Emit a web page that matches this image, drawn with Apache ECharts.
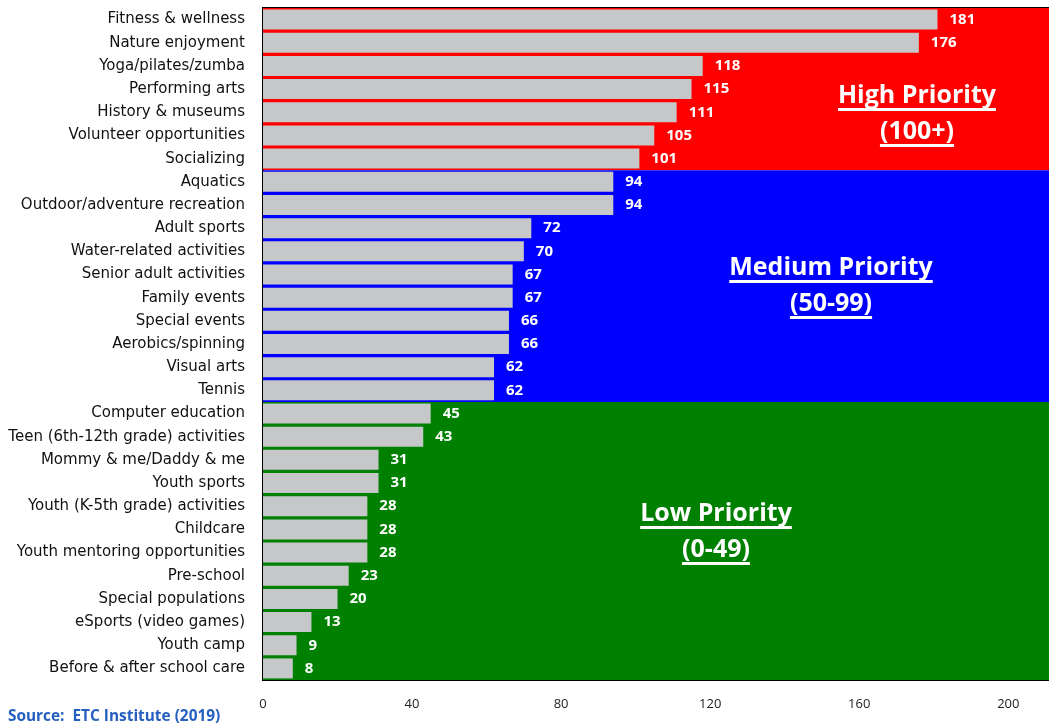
<!DOCTYPE html>
<html>
<head>
<meta charset="utf-8">
<script src="https://cdn.jsdelivr.net/npm/echarts@6/dist/echarts.min.js"></script>
<style>
  html, body { margin: 0; padding: 0; background: #fff; }
  #chart { width: 1049px; height: 724px; }
  .source { position: absolute; left: 8px; top: 705px; font: bold 15.4px 'Open Sans', sans-serif; color: #2560c0; white-space: pre; }
</style>
</head>
<body>
<div id="chart"></div>
<div class="source">Source:  ETC Institute (2019)</div>
<script>
// 项目类别（从上到下）
const categories = [
  'Fitness & wellness', 'Nature enjoyment', 'Yoga/pilates/zumba', 'Performing arts',
  'History & museums', 'Volunteer opportunities', 'Socializing', 'Aquatics',
  'Outdoor/adventure recreation', 'Adult sports', 'Water-related activities',
  'Senior adult activities', 'Family events', 'Special events', 'Aerobics/spinning',
  'Visual arts', 'Tennis', 'Computer education', 'Teen (6th-12th grade) activities',
  'Mommy & me/Daddy & me', 'Youth sports', 'Youth (K-5th grade) activities', 'Childcare',
  'Youth mentoring opportunities', 'Pre-school', 'Special populations',
  'eSports (video games)', 'Youth camp', 'Before & after school care'
];
const values = [181, 176, 118, 115, 111, 105, 101, 94, 94, 72, 70, 67, 67, 66, 66, 62, 62,
  45, 43, 31, 31, 28, 28, 28, 23, 20, 13, 9, 8];
const xTicks = [0, 40, 80, 120, 160, 200];
// 优先级区域：起止行号
const zoneNames = ['High Priority', 'Medium Priority', 'Low Priority'];
const zoneRanges = ['(100+)', '(50-99)', '(0-49)'];
const zoneRows = [[0, 7], [7, 17], [17, 29]];
const zoneColors = ['#ff0000', '#0000ff', '#008000'];

let myChart = echarts.init(document.getElementById('chart'));

// 区域标题文字 + 下划线
const zoneFont = 'bold 25px "Open Sans", sans-serif';
const ctx = document.createElement('canvas').getContext('2d');
ctx.font = zoneFont;
const zoneCenters = [[917, 96], [831, 268], [716, 514]];
const graphics = [];
zoneCenters.forEach(function (c, i) {
  [zoneNames[i], zoneRanges[i]].forEach(function (t, k) {
    const y = c[1] + k * 36;
    const w = ctx.measureText(t).width;
    graphics.push({
      type: 'text', x: c[0], y: y, z: 100,
      style: { text: t, fill: '#fff', fontSize: 25, fontWeight: 'bold', fontFamily: 'Open Sans', align: 'center', verticalAlign: 'middle' }
    });
    graphics.push({
      type: 'rect', z: 100,
      shape: { x: c[0] - w / 2, y: y + 12, width: w, height: 3 },
      style: { fill: '#fff' }
    });
  });
});

let option = {
  animation: false,
  grid: {
    left: 263,
    top: 8,
    right: -4,
    bottom: 44,
    outerBoundsMode: 'none',
    containLabel: false,
    show: true,
    borderColor: '#000',
    borderWidth: 2,
    backgroundColor: 'transparent'
  },
  xAxis: {
    type: 'value',
    min: 0,
    max: 212,
    interval: 40,
    splitLine: { show: false },
    axisTick: { show: false },
    axisLine: { show: false },
    axisLabel: {
      color: '#222',
      fontSize: 13,
      fontFamily: 'Open Sans',
      margin: 18,
      formatter: function (v) { return xTicks.indexOf(v) >= 0 ? v : ''; }
    }
  },
  yAxis: [
    {
      type: 'category',
      data: categories,
      inverse: true,
      axisTick: { show: false },
      axisLine: { show: true, lineStyle: { color: '#000', width: 2 } },
      axisLabel: { color: '#111', fontSize: 15, fontFamily: 'DejaVu Sans', margin: 18, padding: [4, 0, 0, 0] }
    },
    {
      type: 'value',
      min: 0,
      max: 29,
      inverse: true,
      show: false
    }
  ],
  graphic: graphics,
  series: [
    {
      type: 'line',
      yAxisIndex: 1,
      data: [],
      z: 0,
      silent: true,
      markArea: {
        silent: true,
        data: zoneRows.map(function (r, i) {
          return [{ yAxis: r[0], itemStyle: { color: zoneColors[i], opacity: 1 } }, { yAxis: r[1] }];
        })
      }
    },
    {
      type: 'bar',
      data: values,
      barWidth: 20,
      z: 3,
      itemStyle: { color: '#c6c7c9' },
      label: {
        show: true,
        position: 'right',
        distance: 12,
        color: '#fff',
        fontWeight: 'bold',
        fontSize: 15,
        fontFamily: 'Open Sans'
      }
    }
  ]
};
myChart.setOption(option);
</script>
</body>
</html>
